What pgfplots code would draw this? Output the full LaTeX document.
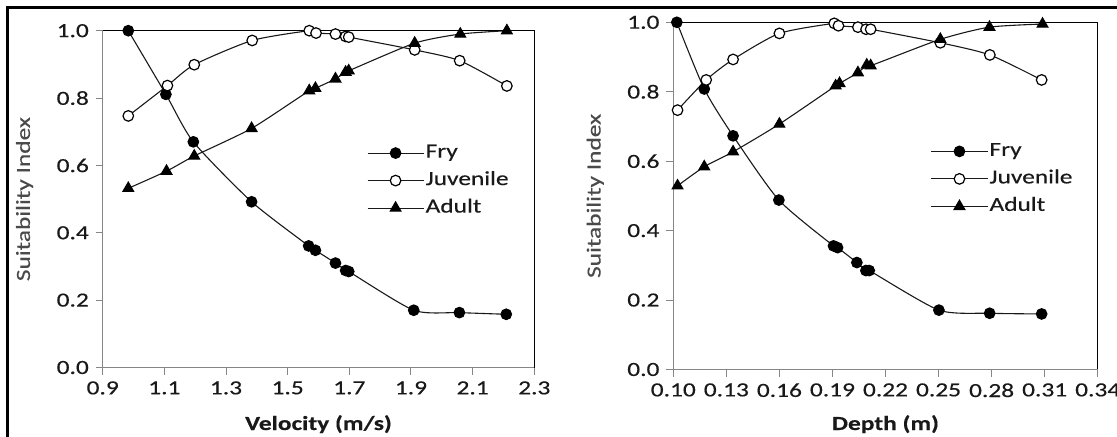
\documentclass[border=0pt]{standalone}
\usepackage{pgfplots}
\pgfplotsset{compat=1.18}
\usepackage{fontspec}
\setmainfont{Carlito}[FakeStretch=1.27, FakeBold=0.35]
\definecolor{axgray}{HTML}{868686}
\definecolor{lblgray}{HTML}{4A4A4A}
\pgfplotsset{
  myaxis/.style={
    scale only axis, clip=false,
    ymin=0, ymax=1, ytick={0,0.2,0.4,0.6,0.8,1.0},
    tick align=outside, xtick pos=bottom, ytick pos=left,
    major tick length=7bp, tick style={axgray, line width=1bp},
    axis line style={draw=none},
    ticklabel style={text=black!90},
    yticklabel style={/pgf/number format/.cd, fixed, fixed zerofill, precision=1, assume math mode=true},
    ylabel={Suitability Index},
    ylabel style={text=lblgray, anchor=center},
    xlabel style={font=\bfseries, text=black!90, anchor=base},
    legend cell align=left,
    legend style={draw=none, fill=none, inner sep=0pt, row sep=7.5bp,
      nodes={text height=13bp, text depth=4bp, inner sep=1.5bp, text=black!90}},
    legend image code/.code={\draw[#1,mark repeat=2,mark phase=2] plot coordinates {(0bp,0bp) (28bp,0bp) (56bp,0bp)};},
  },
  fry/.style={black!90, line width=1.1bp, smooth, tension=0.4, mark=*, mark size=5.3bp, mark options={solid, fill=black, draw=black}},
  juv/.style={black!90, line width=1.1bp, smooth, tension=0.4, mark=*, mark size=5.3bp, mark options={solid, fill=white, draw=black, line width=1.2bp}},
  adu/.style={black!90, line width=1.1bp, smooth, tension=0.4, mark=triangle*, mark size=6.2bp, mark options={solid, fill=black, draw=black}},
}
\begin{document}
\fontsize{20bp}{24bp}\selectfont
\begin{tikzpicture}
\path[use as bounding box] (0bp,0bp) rectangle (1117bp,437bp);
\draw[line width=3bp] (7bp,-5bp) -- (7bp,429bp) -- (1125bp,429bp);

\begin{axis}[myaxis,
  at={(102.7bp,69.5bp)}, anchor=south west,
  width=431.6bp, height=336.8bp,
  xmin=0.9, xmax=2.3, xtick={0.9,1.1,1.3,1.5,1.7,1.9,2.1,2.3},
  xticklabel style={/pgf/number format/.cd, fixed, fixed zerofill, precision=1, assume math mode=true},
  xlabel={Velocity (m/s)},
  xlabel style={at={(axis description cs:0.5,0)}, yshift=-62.5bp},
  ylabel style={at={(axis description cs:-0.181,0.5)}},
  legend style={at={(rel axis cs:0.612,0.555)}, anchor=west},
]
\addplot[fry] coordinates {(0.983,1.000) (1.105,0.811) (1.194,0.670) (1.383,0.492) (1.568,0.361) (1.590,0.348) (1.655,0.310) (1.688,0.288) (1.698,0.285) (1.909,0.170) (2.057,0.163) (2.209,0.158)};
\addlegendentry{Fry}
\addplot[juv] coordinates {(0.983,0.747) (1.110,0.837) (1.197,0.899) (1.385,0.971) (1.570,1.000) (1.592,0.993) (1.655,0.990) (1.688,0.983) (1.698,0.981) (1.912,0.943) (2.058,0.911) (2.211,0.836)};
\addlegendentry{Juvenile}
\addplot[adu] coordinates {(0.983,0.532) (1.107,0.583) (1.197,0.628) (1.383,0.710) (1.570,0.822) (1.590,0.829) (1.655,0.857) (1.688,0.877) (1.698,0.881) (1.912,0.963) (2.060,0.990) (2.211,1.000)};
\addlegendentry{Adult}
\draw[black, line width=1.3bp] (rel axis cs:0,1) -- (rel axis cs:1,1) -- (rel axis cs:1,0);
\draw[axgray, line width=1.3bp] (rel axis cs:0,1) -- (rel axis cs:0,0) -- (rel axis cs:1,0);
\end{axis}

\begin{axis}[myaxis,
  at={(673.3bp,67.5bp)}, anchor=south west,
  width=424.4bp, height=347.2bp,
  xmin=0.10, xmax=0.34, xtick={0.10,0.13,0.16,0.19,0.22,0.25,0.28,0.31,0.34},
  xticklabel style={/pgf/number format/.cd, fixed, fixed zerofill, precision=2, assume math mode=true},
  xlabel={Depth (m)},
  xlabel style={at={(axis description cs:0.5,0)}, yshift=-60.5bp},
  ylabel style={at={(axis description cs:-0.184,0.5)}},
  legend style={at={(rel axis cs:0.6065,0.549)}, anchor=west},
]
\addplot[fry] coordinates {(0.1020,1.000) (0.1175,0.808) (0.1338,0.673) (0.1597,0.488) (0.1906,0.356) (0.1929,0.351) (0.2038,0.308) (0.2089,0.285) (0.2108,0.285) (0.2502,0.171) (0.2789,0.162) (0.3083,0.160)};
\addlegendentry{Fry}
\addplot[juv] coordinates {(0.1024,0.747) (0.1186,0.834) (0.1338,0.893) (0.1600,0.968) (0.1910,0.997) (0.1934,0.990) (0.2044,0.986) (0.2090,0.980) (0.2116,0.980) (0.2510,0.941) (0.2790,0.906) (0.3083,0.834)};
\addlegendentry{Juvenile}
\addplot[adu] coordinates {(0.1024,0.529) (0.1175,0.584) (0.1338,0.627) (0.1600,0.707) (0.1918,0.817) (0.1940,0.824) (0.2044,0.855) (0.2094,0.877) (0.2116,0.875) (0.2510,0.951) (0.2788,0.986) (0.3088,0.995)};
\addlegendentry{Adult}
\draw[black, line width=1.3bp] (rel axis cs:0,1) -- (rel axis cs:1,1) -- (rel axis cs:1,0);
\draw[axgray, line width=1.3bp] (rel axis cs:0,1) -- (rel axis cs:0,0) -- (rel axis cs:1,0);
\end{axis}
\end{tikzpicture}
\end{document}
